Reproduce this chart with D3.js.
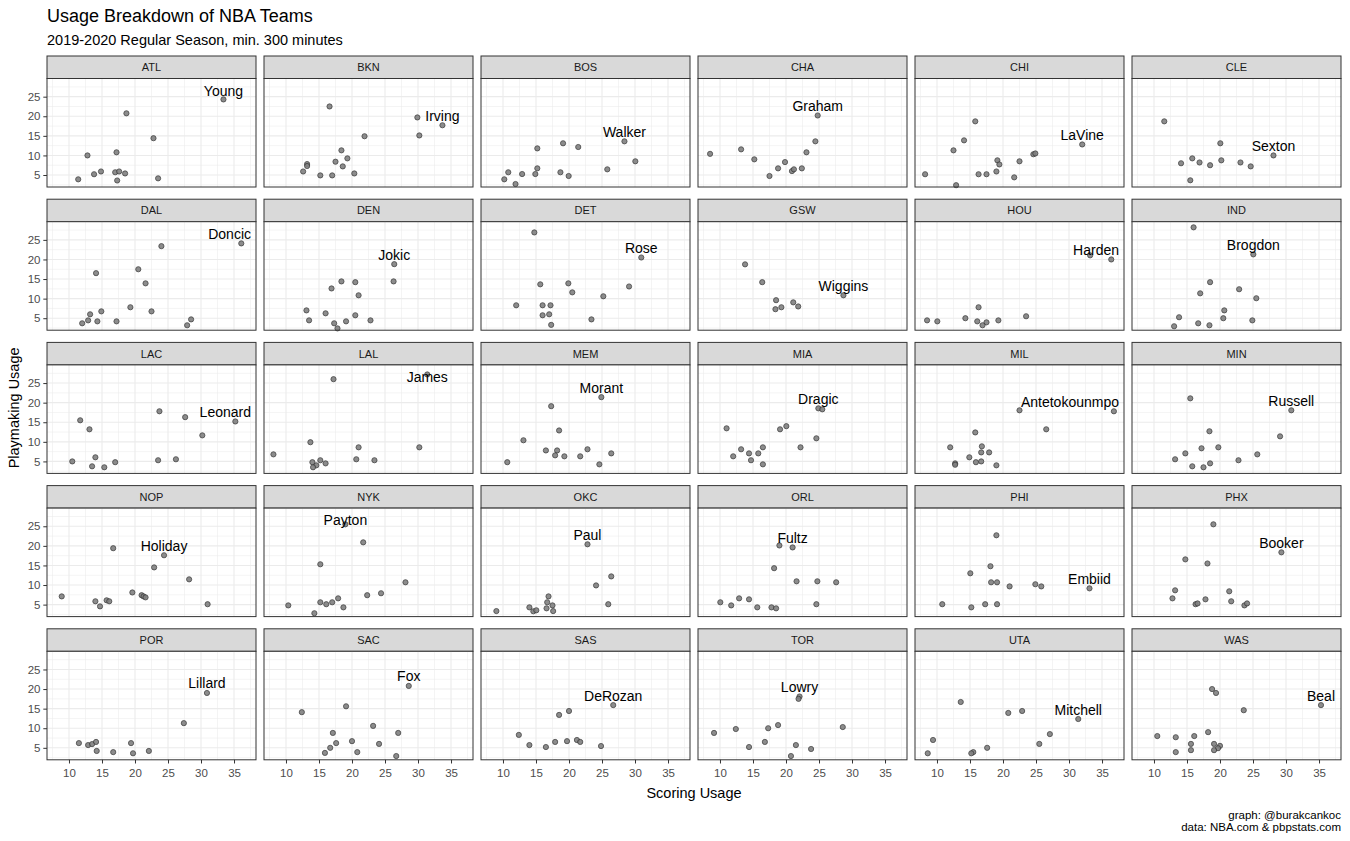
<!DOCTYPE html>
<html>
<head>
<meta charset="utf-8">
<script src="https://cdn.jsdelivr.net/npm/d3@7"></script>
<style>
body { margin: 0; background: #fff; }
text { font-family: "Liberation Sans", Arial, sans-serif; }
</style>
</head>
<body>
<div id="chart"></div>
<script>
// teams in facet order, and the player named in each panel (first point of each team)
var teams = ["ATL","BKN","BOS","CHA","CHI","CLE","DAL","DEN","DET","GSW","HOU","IND",
             "LAC","LAL","MEM","MIA","MIL","MIN","NOP","NYK","OKC","ORL","PHI","PHX",
             "POR","SAC","SAS","TOR","UTA","WAS"];
var stars = ["Young","Irving","Walker","Graham","LaVine","Sexton","Doncic","Jokic","Rose","Wiggins","Harden","Brogdon",
             "Leonard","James","Morant","Dragic","Antetokounmpo","Russell","Holiday","Payton","Paul","Fultz","Embiid","Booker",
             "Lillard","Fox","DeRozan","Lowry","Mitchell","Beal"];

// [scoring usage, playmaking usage]
var ATL = [[33.4,24.3],[18.7,20.75],[22.8,14.4],[12.8,10.0],[17.2,10.8],[11.4,3.9],[13.8,5.2],[14.85,5.9],[17.0,5.7],[17.6,5.9],[17.3,3.6],[18.5,5.4],[23.5,4.15]];
var BKN = [[33.7,17.7],[29.9,19.7],[30.2,15.1],[16.6,22.5],[21.9,14.9],[18.4,11.3],[17.5,8.4],[19.3,9.25],[18.6,7.2],[13.2,7.8],[13.2,7.3],[12.6,5.9],[15.2,4.9],[17.0,4.9],[20.35,5.4]];
var BOS = [[28.4,13.6],[30.05,8.5],[25.8,6.45],[19.1,13.1],[21.4,12.15],[15.2,11.8],[15.2,6.7],[14.9,5.25],[12.9,5.25],[10.8,5.7],[10.2,3.9],[11.9,2.7],[18.7,5.7],[19.95,4.75]];
var CHA = [[24.8,20.2],[24.45,13.6],[23.1,10.8],[8.5,10.4],[13.2,11.55],[15.2,9.0],[19.85,8.3],[18.8,6.7],[17.5,4.75],[20.9,6.0],[21.2,6.45],[22.4,6.7]];
var CHI = [[32.0,12.8],[15.8,18.7],[14.1,13.85],[12.5,11.3],[24.6,10.3],[24.9,10.5],[19.15,8.75],[19.45,7.7],[22.5,8.5],[19.0,5.9],[8.2,5.2],[16.3,5.2],[17.5,5.2],[21.7,4.4],[12.9,2.4]];
var CLE = [[28.1,10.0],[11.56,18.7],[20.05,13.1],[14.1,8.0],[15.8,9.25],[16.9,8.2],[18.5,7.5],[20.2,8.75],[23.1,8.2],[24.65,7.2],[15.5,3.65]];
var DAL = [[36.1,24.1],[24.0,23.4],[14.1,16.5],[20.5,17.5],[21.6,13.9],[19.3,7.8],[22.5,6.75],[14.9,6.75],[13.2,6.0],[12.9,4.45],[12.0,3.7],[14.3,4.2],[17.2,4.2],[28.5,4.7],[27.9,3.2]];
var DEN = [[26.4,18.8],[26.3,14.4],[18.4,14.4],[20.5,14.2],[16.9,12.6],[21.0,10.85],[13.1,7.0],[13.5,4.45],[16.0,6.25],[20.5,5.75],[22.8,4.45],[17.3,3.7],[19.1,4.2],[17.8,2.4]];
var DET = [[30.95,20.5],[14.75,26.9],[29.1,13.1],[15.65,13.65],[19.9,13.9],[20.5,11.6],[25.2,10.6],[12.0,8.3],[16.0,8.3],[17.2,8.3],[16.0,5.75],[17.0,6.0],[17.3,3.3],[23.4,4.7]];
var GSW = [[28.7,10.85],[13.8,18.75],[16.4,14.2],[18.5,9.6],[21.1,9.05],[21.85,8.0],[19.3,7.8],[18.4,7.3]];
var HOU = [[36.4,20.0],[33.2,21.05],[16.3,7.8],[23.5,5.5],[14.3,5.0],[19.3,4.45],[8.5,4.45],[10.05,4.2],[16.1,4.2],[17.5,3.95],[16.9,3.2]];
var IND = [[25.05,21.3],[16.0,28.2],[18.5,14.2],[22.9,12.4],[17.0,11.35],[25.5,10.1],[20.65,7.0],[20.5,5.0],[24.9,4.45],[13.8,5.25],[13.05,2.95],[16.7,3.7],[18.4,3.2]];
var LAC = [[35.2,15.2],[23.7,17.8],[27.6,16.3],[30.2,11.65],[11.7,15.5],[13.1,13.2],[10.5,5.0],[14.0,6.05],[13.5,3.75],[15.35,3.5],[17.0,4.8],[23.5,5.3],[26.2,5.55]];
var LAL = [[31.4,27.2],[17.2,26.0],[30.2,8.6],[21.0,8.6],[13.7,9.9],[8.1,6.8],[20.65,5.55],[23.4,5.3],[15.2,5.3],[14.0,4.8],[16.0,4.5],[14.6,4.0],[14.1,3.5]];
var MEM = [[24.9,21.4],[17.3,19.1],[18.5,12.9],[13.1,10.4],[16.5,7.8],[18.2,7.8],[17.9,6.55],[19.3,6.3],[21.7,6.3],[22.8,8.1],[26.4,7.05],[24.6,4.25],[10.65,4.8]];
var MIA = [[24.9,18.55],[25.5,18.3],[24.6,10.9],[20.05,14.0],[19.1,13.2],[11.0,13.45],[22.2,8.6],[13.2,8.1],[16.5,8.6],[14.4,7.05],[15.8,7.05],[12.0,6.3],[14.7,5.3],[16.5,4.25]];
var MIL = [[36.8,17.8],[22.5,18.05],[26.55,13.2],[15.8,12.4],[12.0,8.6],[16.8,8.85],[16.7,7.3],[17.9,7.3],[14.9,6.05],[12.75,4.5],[12.75,4.15],[15.9,4.8],[16.7,5.0],[19.0,4.0]];
var MIN = [[30.8,18.05],[15.5,21.1],[29.1,11.4],[18.4,12.7],[19.75,8.6],[17.2,8.35],[14.75,7.05],[25.65,6.8],[13.2,5.55],[22.8,5.3],[18.5,4.5],[15.8,3.75],[17.5,3.5]];
var NOP = [[24.4,17.6],[16.7,19.4],[22.9,14.5],[28.2,11.45],[8.9,7.1],[19.6,8.1],[21.0,7.4],[21.3,7.1],[21.6,6.85],[14.0,5.85],[15.7,6.1],[16.1,5.85],[14.7,4.55],[31.0,5.1]];
var NYK = [[19.0,25.5],[21.7,20.9],[15.2,15.3],[28.1,10.7],[24.4,7.9],[22.3,7.4],[17.9,6.6],[17.0,5.6],[15.2,5.6],[16.1,5.1],[18.7,4.3],[10.35,4.8],[14.3,2.8]];
var OKC = [[22.8,20.4],[26.4,12.2],[24.1,9.9],[25.95,5.1],[16.9,7.1],[16.7,5.6],[17.5,4.8],[16.6,4.05],[17.6,3.35],[14.0,4.3],[14.6,3.3],[15.05,3.55],[9.0,3.35]];
var ORL = [[21.0,19.6],[19.0,20.1],[18.2,14.3],[21.6,10.95],[24.75,10.95],[27.6,10.7],[10.05,5.6],[11.7,4.8],[12.9,6.6],[14.4,6.35],[15.65,4.3],[17.8,4.3],[18.5,4.05],[24.6,5.1]];
var PHI = [[33.1,9.15],[19.0,22.7],[18.1,14.8],[15.05,13.0],[18.2,10.7],[19.1,10.7],[21.0,9.65],[24.9,10.2],[25.8,9.65],[10.8,5.1],[15.2,4.3],[17.3,5.1],[19.1,5.1]];
var PHX = [[29.3,18.35],[19.0,25.5],[14.75,16.55],[18.1,15.5],[13.2,8.65],[21.4,8.4],[12.8,6.6],[17.8,6.35],[21.7,5.85],[16.3,5.1],[16.6,5.3],[23.7,4.8],[24.1,5.3]];
var POR = [[30.9,19.0],[27.4,11.3],[11.5,6.2],[12.9,5.7],[13.5,5.95],[14.1,6.5],[14.2,4.2],[16.7,3.9],[19.4,6.2],[19.7,3.6],[22.1,4.2]];
var SAC = [[28.6,20.8],[12.4,14.1],[19.1,15.6],[17.1,8.8],[23.2,10.6],[27.0,8.8],[17.6,6.2],[20.0,6.7],[16.7,5.0],[24.1,6.0],[15.9,3.7],[20.8,3.9],[26.7,2.9]];
var SAS = [[26.7,15.9],[20.0,14.4],[18.5,13.4],[12.4,8.3],[17.9,6.5],[19.7,6.7],[21.2,7.0],[21.7,6.5],[14.0,5.7],[16.5,5.2],[24.85,5.45]];
var TOR = [[22.05,18.1],[21.9,17.5],[28.6,10.3],[12.4,9.8],[17.3,10.0],[18.8,10.8],[9.1,8.8],[16.8,6.5],[14.4,5.2],[21.5,5.7],[23.8,4.7],[20.75,2.9]];
var UTA = [[31.4,12.35],[13.6,16.7],[20.8,13.9],[22.9,14.4],[25.5,6.0],[27.1,8.5],[9.4,7.0],[17.6,5.0],[15.5,3.9],[15.2,3.6],[8.6,3.6]];
var WAS = [[35.3,15.9],[18.8,20.0],[19.4,19.0],[23.6,14.6],[10.5,8.0],[13.3,7.7],[16.1,8.0],[18.2,9.0],[15.6,6.0],[15.6,4.4],[13.3,3.9],[19.1,6.0],[20.0,5.5],[19.7,4.9],[19.1,4.4]];

var teamPoints = [ATL,BKN,BOS,CHA,CHI,CLE,DAL,DEN,DET,GSW,HOU,IND,LAC,LAL,MEM,MIA,MIL,MIN,
                  NOP,NYK,OKC,ORL,PHI,PHX,POR,SAC,SAS,TOR,UTA,WAS];

var xTicks = [10, 15, 20, 25, 30, 35];
var yTicks = [5, 10, 15, 20, 25];
var xMinor = [7.5, 12.5, 17.5, 22.5, 27.5, 32.5, 37.5];
var yMinor = [2.5, 7.5, 12.5, 17.5, 22.5, 27.5];

var svgWidth = 1350;
var svgHeight = 841;

var left0 = 47, colStep = 217, panelW = 209;
var top0 = 56, rowStep = 143.2, stripH = 22.5, panelH = 108.5;
var ncol = 6, nrow = 5;

var svg = d3.select("#chart")
    .append("svg")
    .attr("width", svgWidth)
    .attr("height", svgHeight);

var xScale = d3.scaleLinear().domain([6.67, 38.33]).range([0, panelW]);
var yScale = d3.scaleLinear().domain([1.94, 29.64]).range([panelH, 0]);

teams.forEach(function(team, i) {
    var col = i % ncol, row = Math.floor(i / ncol);
    var g = svg.append("g")
        .attr("transform", `translate(${left0 + col * colStep}, ${top0 + row * rowStep})`);

    // strip
    g.append("rect")
        .attr("width", panelW).attr("height", stripH)
        .attr("fill", "#D9D9D9").attr("stroke", "#333").attr("stroke-width", 1);
    g.append("text")
        .attr("x", panelW / 2).attr("y", stripH / 2 + 4)
        .attr("text-anchor", "middle")
        .attr("font-size", "11px").attr("fill", "#1A1A1A")
        .text(team);

    var p = g.append("g").attr("transform", `translate(0, ${stripH})`);
    p.append("rect").attr("width", panelW).attr("height", panelH).attr("fill", "#fff");

    // grid
    p.selectAll(".xminor").data(xMinor).enter().append("line")
        .attr("x1", d => xScale(d)).attr("x2", d => xScale(d))
        .attr("y1", 0).attr("y2", panelH)
        .attr("stroke", "#EBEBEB").attr("stroke-width", 0.55);
    p.selectAll(".yminor").data(yMinor).enter().append("line")
        .attr("y1", d => yScale(d)).attr("y2", d => yScale(d))
        .attr("x1", 0).attr("x2", panelW)
        .attr("stroke", "#EBEBEB").attr("stroke-width", 0.55);
    p.selectAll(".xmajor").data(xTicks).enter().append("line")
        .attr("x1", d => xScale(d)).attr("x2", d => xScale(d))
        .attr("y1", 0).attr("y2", panelH)
        .attr("stroke", "#EBEBEB").attr("stroke-width", 1.1);
    p.selectAll(".ymajor").data(yTicks).enter().append("line")
        .attr("y1", d => yScale(d)).attr("y2", d => yScale(d))
        .attr("x1", 0).attr("x2", panelW)
        .attr("stroke", "#EBEBEB").attr("stroke-width", 1.1);

    // points
    var pts = teamPoints[i];
    p.selectAll("circle").data(pts).enter().append("circle")
        .attr("cx", d => xScale(d[0]))
        .attr("cy", d => yScale(d[1]))
        .attr("r", 2.6)
        .attr("fill", "#808080")
        .attr("stroke", "#333")
        .attr("stroke-width", 0.8)
        .attr("opacity", 0.9);

    // star label
    var star = pts[0];
    var lbl = p.append("text")
        .attr("text-anchor", "middle")
        .attr("font-size", "14px").attr("fill", "#000")
        .text(stars[i]);
    var w = lbl.node().getComputedTextLength();
    var lx = Math.max(w / 2 + 5, Math.min(panelW - w / 2 - 5, xScale(star[0])));
    var ly = Math.max(17, yScale(star[1]) - 4.5);
    lbl.attr("x", lx).attr("y", ly);

    p.append("rect").attr("width", panelW).attr("height", panelH)
        .attr("fill", "none").attr("stroke", "#333").attr("stroke-width", 1);

    // axes on the outer panels
    if (col === 0) {
        var ay = p.append("g").call(d3.axisLeft(yScale).tickValues(yTicks).tickSize(3.7).tickPadding(2.8));
        ay.select(".domain").remove();
        ay.selectAll("line").attr("stroke", "#333");
        ay.selectAll("text").attr("fill", "#4D4D4D").attr("font-size", "11.5px")
            .attr("font-family", "Liberation Sans, Arial, sans-serif");
    }
    if (row === nrow - 1) {
        var ax = p.append("g").attr("transform", `translate(0, ${panelH})`)
            .call(d3.axisBottom(xScale).tickValues(xTicks).tickSize(3.7).tickPadding(5.5));
        ax.select(".domain").remove();
        ax.selectAll("line").attr("stroke", "#333");
        ax.selectAll("text").attr("fill", "#4D4D4D").attr("font-size", "11.5px")
            .attr("font-family", "Liberation Sans, Arial, sans-serif");
    }
});

// titles
svg.append("text").attr("x", 47).attr("y", 22)
    .attr("font-size", "18px").attr("fill", "#000")
    .text("Usage Breakdown of NBA Teams");
svg.append("text").attr("x", 47).attr("y", 45)
    .attr("font-size", "14.5px").attr("fill", "#000")
    .text("2019-2020 Regular Season, min. 300 minutes");

// axis titles
var gridBottom = top0 + (nrow - 1) * rowStep + stripH + panelH;
svg.append("text")
    .attr("x", left0 + (ncol - 1) * colStep / 2 + panelW / 2)
    .attr("y", gridBottom + 38)
    .attr("text-anchor", "middle")
    .attr("font-size", "14.5px").attr("fill", "#000")
    .text("Scoring Usage");
svg.append("text")
    .attr("transform", `translate(19, ${(top0 + gridBottom) / 2}) rotate(-90)`)
    .attr("text-anchor", "middle")
    .attr("font-size", "14.5px").attr("fill", "#000")
    .text("Playmaking Usage");

// caption
var right = left0 + (ncol - 1) * colStep + panelW;
svg.append("text").attr("x", right).attr("y", 819)
    .attr("text-anchor", "end").attr("font-size", "11.5px").attr("fill", "#000")
    .text("graph: @burakcankoc");
svg.append("text").attr("x", right).attr("y", 831)
    .attr("text-anchor", "end").attr("font-size", "11.5px").attr("fill", "#000")
    .text("data: NBA.com & pbpstats.com");
</script>
</body>
</html>
